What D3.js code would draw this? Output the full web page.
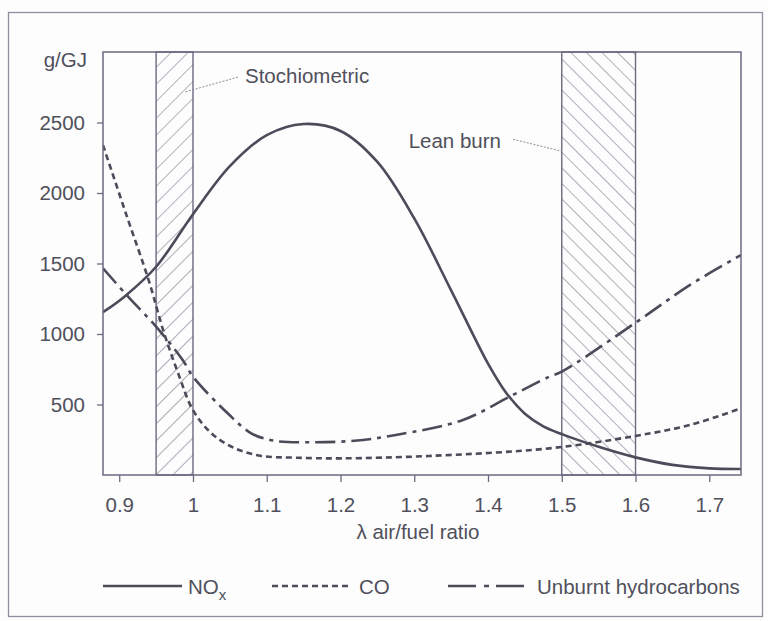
<!DOCTYPE html>
<html>
<head>
<meta charset="utf-8">
<script src="https://cdn.jsdelivr.net/npm/d3@7"></script>
<style>
  html, body { margin: 0; padding: 0; background: #fdfdfd; }
  svg text { font-family: "Liberation Sans", Arial, Helvetica, sans-serif; fill: #50505c; }
</style>
</head>
<body>
<div id="chart"></div>
<script>
// air/fuel ratio ticks
const xTicks = [0.9, 1.0, 1.1, 1.2, 1.3, 1.4, 1.5, 1.6, 1.7];
const xTickLabels = ["0.9", "1", "1.1", "1.2", "1.3", "1.4", "1.5", "1.6", "1.7"];
const yTicks = [500, 1000, 1500, 2000, 2500];

// NOx (solid)
const noxLambda = [0.878, 0.907, 0.95, 1.0, 1.05, 1.1, 1.15, 1.2, 1.25, 1.3, 1.35, 1.4, 1.425, 1.45, 1.475, 1.5, 1.55, 1.6, 1.65, 1.7, 1.743];
const noxValues = [1155, 1265, 1477, 1850, 2190, 2410, 2489, 2440, 2220, 1820, 1310, 790, 580, 435, 345, 290, 200, 125, 72, 47, 43];

// CO (dotted)
const coLambda = [0.878, 0.91, 0.94, 0.96, 0.98, 1.0, 1.025, 1.057, 1.093, 1.138, 1.2, 1.32, 1.483, 1.6, 1.674, 1.743];
const coValues = [2340, 1840, 1380, 1020, 720, 460, 296, 189, 135, 123, 118, 135, 189, 277, 355, 473];

// Unburnt hydrocarbons (dash-dot)
const hcLambda = [0.878, 0.912, 0.95, 0.986, 1.0, 1.047, 1.079, 1.11, 1.156, 1.219, 1.275, 1.366, 1.429, 1.483, 1.5, 1.6, 1.674, 1.743];
const hcValues = [1466, 1265, 1052, 816, 697, 438, 296, 243, 232, 243, 284, 390, 555, 697, 733, 1080, 1348, 1560];

// hatched bands
const bandNames = ["Stochiometric", "Lean burn"];
const bandStart = [0.95, 1.5];
const bandEnd = [1.0, 1.6];
// label position and leader line, in data units
const labelLambda = [1.0705, 1.2924];
const labelValue = [2780, 2318];
const leaderFromLambda = [1.061, 1.434];
const leaderFromValue = [2822, 2381];
const leaderToLambda = [0.989, 1.5];
const leaderToValue = [2716, 2296];

const W = 768, H = 621;
const margin = { top: 52, right: 27, bottom: 146, left: 103 };
const width = W - margin.left - margin.right;
const height = H - margin.top - margin.bottom;
const ink = "#4b4b5a";
const frame = "#6a6a80";
const fontSize = "20.5px";

const svg = d3.select("#chart").append("svg")
    .attr("width", W)
    .attr("height", H);

// outer frame
svg.append("rect")
    .attr("x", 8.5).attr("y", 12.5)
    .attr("width", 754).attr("height", 604)
    .attr("fill", "none")
    .attr("stroke", "#8e8ea2")
    .attr("stroke-width", 1.3);

const defs = svg.append("defs");
function hatch(id, angle, gap) {
    defs.append("pattern")
        .attr("id", id)
        .attr("patternUnits", "userSpaceOnUse")
        .attr("width", gap).attr("height", gap)
        .attr("patternTransform", "rotate(" + angle + ")")
        .append("line")
        .attr("x1", 0).attr("y1", 0).attr("x2", 0).attr("y2", gap)
        .attr("stroke", "#6e6e82")
        .attr("stroke-width", 1.1);
}
hatch("hatchFwd", 45, 12);
hatch("hatchBack", -45, 11);

defs.append("clipPath").attr("id", "plotClip")
    .append("rect").attr("width", width).attr("height", height);

const g = svg.append("g")
    .attr("transform", "translate(" + margin.left + "," + margin.top + ")");

// scales
const x = d3.scaleLinear().domain([0.878, 1.743]).range([0, width]);
const y = d3.scaleLinear().domain([0, 3000]).range([height, 0]);

// hatched bands
bandNames.forEach((name, i) => {
    g.append("rect")
        .attr("x", x(bandStart[i]))
        .attr("y", 0)
        .attr("width", x(bandEnd[i]) - x(bandStart[i]))
        .attr("height", height)
        .attr("fill", i === 0 ? "url(#hatchFwd)" : "url(#hatchBack)")
        .attr("stroke", frame)
        .attr("stroke-width", 1.4);
});

// curves
const line = d3.line()
    .x(d => x(d[0]))
    .y(d => y(d[1]))
    .curve(d3.curveCatmullRom.alpha(0.5));

const series = [
    { lam: noxLambda, val: noxValues, dash: null },
    { lam: coLambda, val: coValues, dash: "6,4" },
    { lam: hcLambda, val: hcValues, dash: "20,6,4,6" }
];
series.forEach(s => {
    g.append("path")
        .datum(s.lam.map((l, i) => [l, s.val[i]]))
        .attr("d", line)
        .attr("clip-path", "url(#plotClip)")
        .attr("fill", "none")
        .attr("stroke", ink)
        .attr("stroke-width", 2.6)
        .attr("stroke-dasharray", s.dash);
});

// plot frame
g.append("rect")
    .attr("width", width).attr("height", height)
    .attr("fill", "none")
    .attr("stroke", frame)
    .attr("stroke-width", 1.5);

// axes
const xAxis = g.append("g")
    .attr("transform", "translate(0," + height + ")")
    .call(d3.axisBottom(x).tickValues(xTicks).tickSize(7).tickPadding(15)
        .tickFormat((d, i) => xTickLabels[i]));
const yAxis = g.append("g")
    .call(d3.axisLeft(y).tickValues(yTicks).tickSize(6).tickPadding(12)
        .tickFormat(d3.format("d")));
[xAxis, yAxis].forEach(a => {
    a.select(".domain").remove();
    a.selectAll(".tick line").attr("stroke", frame).attr("stroke-width", 1.3);
    a.selectAll(".tick text").style("font-size", fontSize).attr("fill", "#50505c");
});

// unit label
g.append("text")
    .attr("x", -16)
    .attr("y", y(3000) + 15)
    .attr("text-anchor", "end")
    .style("font-size", fontSize)
    .text("g/GJ");

// x axis title
g.append("text")
    .attr("x", width / 2 - 4)
    .attr("y", height + 64)
    .attr("text-anchor", "middle")
    .style("font-size", fontSize)
    .text("λ air/fuel ratio");

// band labels with leader lines
bandNames.forEach((name, i) => {
    g.append("line")
        .attr("x1", x(leaderFromLambda[i])).attr("y1", y(leaderFromValue[i]))
        .attr("x2", x(leaderToLambda[i])).attr("y2", y(leaderToValue[i]))
        .attr("stroke", "#8a8a9c")
        .attr("stroke-width", 1)
        .attr("stroke-dasharray", "2,1.5");
    g.append("text")
        .attr("x", x(labelLambda[i]))
        .attr("y", y(labelValue[i]))
        .style("font-size", fontSize)
        .text(name);
});

// legend
const legend = svg.append("g").attr("transform", "translate(0,586)");
const legendItems = [
    { x1: 103, x2: 182, dash: null, tx: 188 },
    { x1: 272, x2: 350, dash: "6,4", tx: 359 },
    { x1: 448, x2: 525, dash: "28,8,5,7,28", tx: 537 }
];
legendItems.forEach(it => {
    legend.append("line")
        .attr("x1", it.x1).attr("x2", it.x2)
        .attr("y1", 0).attr("y2", 0)
        .attr("stroke", ink)
        .attr("stroke-width", 2.6)
        .attr("stroke-dasharray", it.dash);
});
const noxText = legend.append("text")
    .attr("x", legendItems[0].tx).attr("y", 8)
    .style("font-size", fontSize);
noxText.append("tspan").text("NO");
noxText.append("tspan").attr("dy", 6).style("font-size", "15px").text("x");
legend.append("text")
    .attr("x", legendItems[1].tx).attr("y", 8)
    .style("font-size", fontSize)
    .text("CO");
legend.append("text")
    .attr("x", legendItems[2].tx).attr("y", 8)
    .style("font-size", fontSize)
    .text("Unburnt hydrocarbons");
</script>
</body>
</html>
